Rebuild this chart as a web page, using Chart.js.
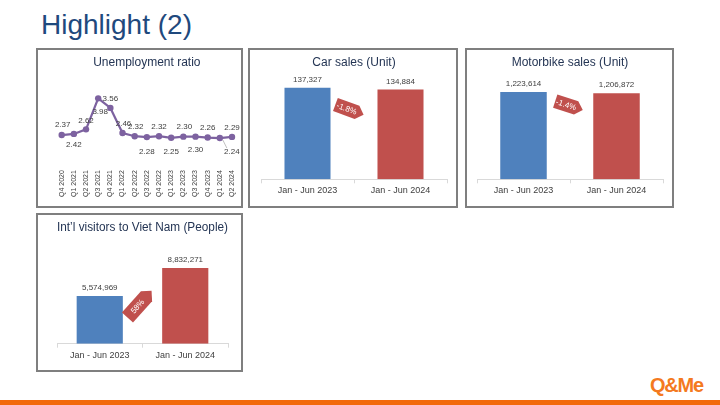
<!DOCTYPE html>
<html>
<head>
<meta charset="utf-8">
<script src="https://cdn.jsdelivr.net/npm/chart.js@4.4.1/dist/chart.umd.min.js"></script>
<style>
  html, body { margin: 0; padding: 0; background: #fff; }
  body { width: 720px; height: 405px; position: relative; overflow: hidden; font-family: "Liberation Sans", Arial, sans-serif; }
  #pageTitle { position: absolute; left: 41px; top: 11px; font-size: 28px; line-height: 28px; color: #1f497d; white-space: nowrap; }
  .panel { position: absolute; border: 2px solid #7f7f7f; box-sizing: border-box; }
  .panel canvas { position: absolute; left: 0; top: 0; }
  #footer { position: absolute; left: 0; top: 400px; width: 720px; height: 5px; background: #f26a0c; }
  #logo { position: absolute; left: 650px; top: 375px; font-size: 20px; line-height: 20px; font-weight: bold; color: #f47920; letter-spacing: -1.2px; }
</style>
</head>
<body>
<div id="pageTitle">Highlight (2)</div>

<div class="panel" style="left:36px;top:48px;width:207px;height:160px;"><canvas id="unemp" width="203" height="156"></canvas></div>
<div class="panel" style="left:248px;top:48px;width:210px;height:160px;"><canvas id="car" width="206" height="156"></canvas></div>
<div class="panel" style="left:465px;top:48px;width:209px;height:160px;"><canvas id="moto" width="205" height="156"></canvas></div>
<div class="panel" style="left:36px;top:213px;width:207px;height:159px;"><canvas id="visitors" width="203" height="155"></canvas></div>

<div id="logo">Q&amp;Me</div>
<div id="footer"></div>

<script>
// ---- data ----
const quarters = ['Q4 2020', 'Q1 2021', 'Q2 2021', 'Q3 2021', 'Q4 2021', 'Q1 2022', 'Q2 2022', 'Q3 2022',
    'Q4 2022', 'Q1 2023', 'Q2 2023', 'Q3 2023', 'Q4 2023', 'Q1 2024', 'Q2 2024'];
const unemployment = [2.37, 2.42, 2.62, 3.98, 3.56, 2.46, 2.32, 2.28, 2.32, 2.25, 2.30, 2.30, 2.26, 2.24, 2.29];

const periods = ['Jan - Jun 2023', 'Jan - Jun 2024'];
const carSales = [137327, 134884];
const motorbikeSales = [1223614, 1206872];
const visitors = [5574969, 8832271];

const carChange = '-1.8%';
const motorbikeChange = '-1.4%';
const visitorsChange = '58%';

// ---- styling ----
const FONT = '"Liberation Sans", Arial, sans-serif';
const BLUE = '#4f81bd';
const RED = '#c0504d';
const PURPLE = '#7d62a0';
const TITLE_COLOR = '#243554';
const LABEL_COLOR = '#404040';

Chart.defaults.font.family = FONT;
Chart.defaults.animation = false;
Chart.defaults.devicePixelRatio = 1;

// label placement for the unemployment line: [dx, dy] from each point
const unempLabelOffsets = [
    [1, -10], [0, 11], [0, -8.5], [2, 13], [0, -9.5], [1, -9.5], [1, -9.5], [0, 14.5],
    [0, -9.5], [0, 14], [1, -9.5], [0, 13.5], [0, -9.5], [12, 14], [0, -9.5]
];

// draws value labels next to each point / bar
const valueLabels = {
    id: 'valueLabels',
    afterDatasetsDraw(chart, args, opts) {
        if (!opts.enabled) return;
        const ctx = chart.ctx;
        ctx.save();
        ctx.font = `${opts.size}px ${FONT}`;
        ctx.fillStyle = opts.color;
        ctx.textAlign = 'center';
        ctx.textBaseline = 'middle';
        const ds = chart.data.datasets[0];
        const meta = chart.getDatasetMeta(0);
        meta.data.forEach((el, i) => {
            const off = opts.offsets ? opts.offsets[i] : [0, -opts.gap];
            const x = el.x + off[0];
            const y = el.y + off[1];
            if (opts.leader && opts.leader.includes(i)) {
                ctx.save();
                ctx.strokeStyle = '#a6a6a6';
                ctx.lineWidth = 0.7;
                ctx.beginPath();
                ctx.moveTo(el.x + 3, el.y + 2);
                ctx.lineTo(x - 5, y - 4);
                ctx.stroke();
                ctx.restore();
            }
            ctx.fillText(opts.format(ds.data[i]), x, y);
        });
        ctx.restore();
    }
};

// red percent-change tag between the two bars
const changeTag = {
    id: 'changeTag',
    afterDatasetsDraw(chart, args, opts) {
        if (!opts.text) return;
        const meta = chart.getDatasetMeta(0);
        const a = meta.data[0], b = meta.data[1];
        const cx = (a.x + b.x) / 2 + opts.dx;
        const cy = (a.y + b.y) / 2 + opts.dy;
        const w = opts.w, h = opts.h;
        const ctx = chart.ctx;
        ctx.save();
        ctx.translate(cx, cy);
        ctx.rotate(opts.angle * Math.PI / 180);
        ctx.beginPath();
        ctx.moveTo(-w / 2, -h / 2);
        ctx.lineTo(w / 2 - h / 2, -h / 2);
        ctx.lineTo(w / 2, 0);
        ctx.lineTo(w / 2 - h / 2, h / 2);
        ctx.lineTo(-w / 2, h / 2);
        ctx.closePath();
        ctx.fillStyle = RED;
        ctx.fill();
        ctx.fillStyle = '#ffffff';
        ctx.font = `8px ${FONT}`;
        ctx.textAlign = 'center';
        ctx.textBaseline = 'middle';
        ctx.fillText(opts.text, -3, 0.5);
        ctx.restore();
    }
};

function panelTitle(text) {
    return {
        display: true,
        text: text,
        color: TITLE_COLOR,
        font: { size: 12, weight: 'normal' },
        padding: { top: 5, bottom: 10 }
    };
}

// ---- unemployment line ----
new Chart(document.getElementById('unemp'), {
    type: 'line',
    data: {
        labels: quarters,
        datasets: [{
            data: unemployment,
            borderColor: PURPLE,
            backgroundColor: PURPLE,
            borderWidth: 2.2,
            pointRadius: 3.2,
            pointBackgroundColor: PURPLE,
            pointBorderWidth: 0,
            tension: 0
        }]
    },
    options: {
        responsive: false,
        layout: { padding: { left: 23.7, right: 9, top: 0, bottom: 7 } },
        scales: {
            x: {
                grid: { display: false, drawTicks: false },
                border: { display: false },
                ticks: {
                    color: LABEL_COLOR,
                    font: { size: 7, lineHeight: 1 },
                    padding: 2,
                    minRotation: 90,
                    maxRotation: 90,
                    autoSkip: false
                }
            },
            y: { display: false, min: 0.92, max: 4.81 }
        },
        plugins: {
            legend: { display: false },
            tooltip: { enabled: false },
            title: panelTitle('Unemployment ratio'),
            valueLabels: {
                enabled: true, size: 8, color: LABEL_COLOR,
                offsets: unempLabelOffsets, leader: [13],
                format: v => v.toFixed(2)
            }
        }
    },
    plugins: [valueLabels]
});

// ---- bar panels ----
function barPanel(id, title, values, yMax, pad, barPct, tag) {
    return new Chart(document.getElementById(id), {
        type: 'bar',
        data: {
            labels: periods,
            datasets: [{
                data: values,
                backgroundColor: [BLUE, RED],
                borderWidth: 0,
                barPercentage: barPct,
                categoryPercentage: 1
            }]
        },
        options: {
            responsive: false,
            layout: { padding: pad },
            scales: {
                x: {
                    grid: { display: true, drawOnChartArea: false, drawTicks: true, tickLength: 4, color: '#d9d9d9', offset: true },
                    border: { display: true, color: '#d9d9d9' },
                    ticks: { color: LABEL_COLOR, font: { size: 9 }, padding: 2 }
                },
                y: { display: false, min: 0, max: yMax }
            },
            plugins: {
                legend: { display: false },
                tooltip: { enabled: false },
                title: panelTitle(title),
                valueLabels: {
                    enabled: true, size: 8, color: LABEL_COLOR, gap: 8,
                    format: v => v.toLocaleString('en-US')
                },
                changeTag: tag
            }
        },
        plugins: [valueLabels, changeTag]
    });
}

barPanel('car', 'Car sales (Unit)', carSales, 150000,
    { left: 11, right: 9, top: 0, bottom: 7.9 }, 0.495,
    { text: carChange, angle: 20, w: 30, h: 14, dx: -4.5, dy: 21 });

barPanel('moto', 'Motorbike sales (Unit)', motorbikeSales, 1400000,
    { left: 10, right: 9, top: 0, bottom: 7.9 }, 0.5,
    { text: motorbikeChange, angle: 18, w: 29, h: 14, dx: -1, dy: 13 });

barPanel('visitors', 'Int’l visitors to Viet Nam (People)', visitors, 11600000,
    { left: 19, right: 13, top: 0, bottom: 7.5 }, 0.54,
    { text: visitorsChange, angle: -48, w: 36, h: 15, dx: -3, dy: 22 });
</script>
</body>
</html>
